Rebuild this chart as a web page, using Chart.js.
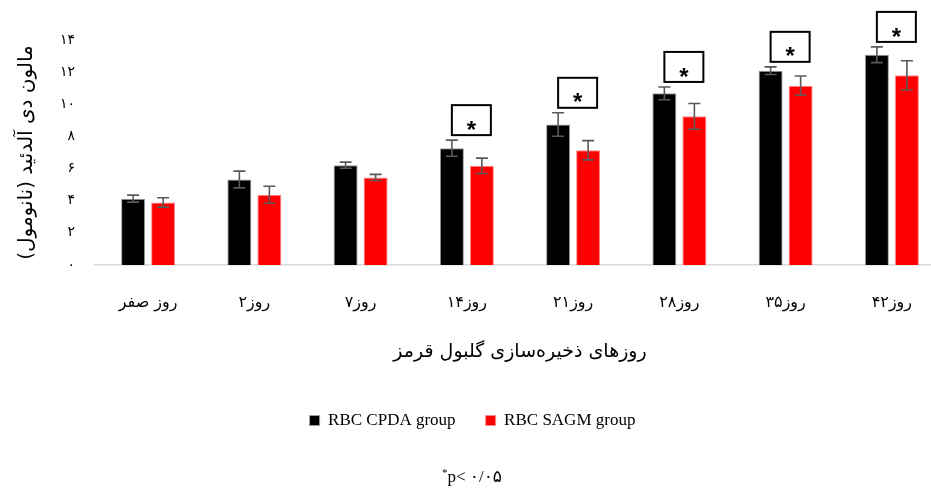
<!DOCTYPE html>
<html><head><meta charset="utf-8">
<script src="https://cdn.jsdelivr.net/npm/chart.js@4/dist/chart.umd.min.js"></script>
<style>
html,body{margin:0;padding:0;background:#fff;overflow:hidden;width:931px;height:489px;}
#wrap{width:960px;height:489px;position:relative;}
</style></head>
<body><div id="wrap"><canvas id="c" width="960" height="489"></canvas></div>
<script>
const categories = ["روز صفر","روز۲","روز۷","روز۱۴","روز۲۱","روز۲۸","روز۳۵","روز۴۲"];
const cpdaValues = [4.13, 5.32, 6.21, 7.27, 8.74, 10.68, 12.09, 13.08];
const cpdaErrors = [0.22, 0.52, 0.19, 0.50, 0.73, 0.40, 0.24, 0.49];
const sagmValues = [3.89, 4.37, 5.45, 6.17, 7.14, 9.25, 11.16, 11.80];
const sagmErrors = [0.29, 0.53, 0.19, 0.48, 0.60, 0.80, 0.60, 0.91];
const significant = [false, false, false, true, true, true, true, true];
const yTickLabels = {0:"۰",2:"۲",4:"۴",6:"۶",8:"۸",10:"۱۰",12:"۱۲",14:"۱۴"};
const seriesNames = ["RBC CPDA group", "RBC SAGM group"];
const yTitle = "مالون دی آلدئید (نانومول)";
const xTitle = "روزهای ذخیره‌سازی گلبول قرمز";
const footnote = "p< ۰/۰۵";

const errorPlugin = {
  id: 'errs',
  afterDatasetsDraw(chart) {
    const ctx = chart.ctx;
    const y = chart.scales.y;
    const errs = [cpdaErrors, sagmErrors];
    ctx.save();
    chart.data.datasets.forEach((ds, di) => {
      const meta = chart.getDatasetMeta(di);
      meta.data.forEach((bar, i) => {
        const v = ds.data[i], e = errs[di][i];
        const yt = y.getPixelForValue(v + e), yb = y.getPixelForValue(v - e);
        ctx.strokeStyle = '#595959'; ctx.lineWidth = 1.6;
        ctx.beginPath();
        ctx.moveTo(bar.x, yt); ctx.lineTo(bar.x, yb);
        ctx.moveTo(bar.x - 6, yt); ctx.lineTo(bar.x + 6, yt);
        ctx.moveTo(bar.x - 6, yb); ctx.lineTo(bar.x + 6, yb);
        ctx.stroke();
      });
    });
    const meta0 = chart.getDatasetMeta(0);
    meta0.data.forEach((bar, i) => {
      if (!significant[i]) return;
      const top = y.getPixelForValue(cpdaValues[i] + cpdaErrors[i]);
      const bottom = top - 5, h = 30, w = 39, left = bar.x;
      ctx.strokeStyle = '#000'; ctx.lineWidth = 2;
      ctx.strokeRect(left, bottom - h, w, h);
      ctx.fillStyle = '#000';
      ctx.font = 'bold 24px "Liberation Sans"';
      ctx.textAlign = 'center'; ctx.textBaseline = 'middle';
      ctx.fillText('*', left + w / 2, bottom - 4);
    });
    ctx.restore();
  },
  afterDraw(chart) {
    const ctx = chart.ctx;
    ctx.save();
    ctx.fillStyle = '#000';
    ctx.textBaseline = 'alphabetic';
    ctx.font = '17px "Liberation Serif", "DejaVu Sans"';
    const w = ctx.measureText(footnote).width;
    ctx.font = '11px "Liberation Serif"';
    const ws = ctx.measureText('*').width;
    const x0 = 472 - (w + ws) / 2;
    ctx.textAlign = 'left';
    ctx.fillText('*', x0, 476);
    ctx.font = '17px "Liberation Serif", "DejaVu Sans"';
    ctx.fillText(footnote, x0 + ws, 482);
    ctx.restore();
  }
};

new Chart(document.getElementById('c'), {
  type: 'bar',
  data: {
    labels: categories,
    datasets: [
      { label: seriesNames[0], data: cpdaValues, backgroundColor: '#000000', borderColor: '#9a9a9a', borderWidth: 1, categoryPercentage: 0.565, barPercentage: 0.8 },
      { label: seriesNames[1], data: sagmValues, backgroundColor: '#ff0000', borderColor: '#ff8a8a', borderWidth: 1, categoryPercentage: 0.565, barPercentage: 0.8 }
    ]
  },
  options: {
    responsive: false,
    animation: false,
    devicePixelRatio: 1,
    layout: { padding: { top: 40, right: 15, left: 0, bottom: 50 } },
    scales: {
      x: {
        grid: { display: false, drawTicks: false },
        border: { display: true, color: '#d9d9d9', width: 1.5 },
        ticks: { color: '#000', font: { size: 16, family: '"DejaVu Sans"' }, padding: 28, maxRotation: 0 },
        title: { display: true, text: xTitle, color: '#000', font: { size: 19, family: '"DejaVu Sans"' }, padding: { top: 0, bottom: 19 } }
      },
      y: {
        min: 0, max: 14,
        grid: { display: false, drawTicks: false },
        border: { display: false },
        afterFit(s) { s.width = 95; },
        ticks: { stepSize: 2, color: '#000', font: { size: 14, family: '"DejaVu Sans"' }, padding: 20,
          callback: v => yTickLabels[v] },
        title: { display: true, text: yTitle, color: '#000', font: { size: 20, family: '"DejaVu Sans"' }, padding: { top: 15, bottom: 0 } }
      }
    },
    plugins: {
      legend: {
        position: 'bottom',
        labels: { color: '#000', boxWidth: 10, boxHeight: 10, padding: 30, font: { size: 17, family: '"Liberation Serif"' } }
      },
      tooltip: { enabled: false }
    }
  },
  plugins: [errorPlugin]
});
</script></body></html>
